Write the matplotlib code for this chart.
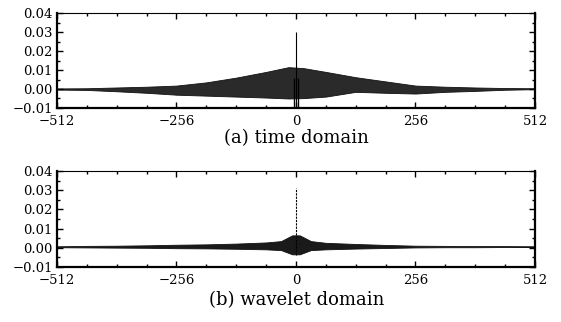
import matplotlib
matplotlib.use("Agg")
import matplotlib.pyplot as plt
from matplotlib.ticker import MultipleLocator

plt.rcParams['font.family'] = ['DejaVu Serif']

# (a) time domain: envelope of the oscillating signal
x_a = [-512, -448, -384, -320, -256, -192, -128, -64, -16, 16, 64, 128, 192, 256, 320, 384, 448, 512]
up_a = [0.0003, 0.0004, 0.0008, 0.0012, 0.0018, 0.0035, 0.0060, 0.0090, 0.0115,
        0.0110, 0.0090, 0.0062, 0.0040, 0.0018, 0.0012, 0.0008, 0.0005, 0.0004]
lo_a = [-0.0003, -0.0005, -0.0012, -0.0020, -0.0030, -0.0035, -0.0040, -0.0045, -0.0050,
        -0.0048, -0.0040, -0.0015, -0.0020, -0.0024, -0.0015, -0.0010, -0.0004, -0.0001]
spike_a = 0.030
dip_x_a = [-4, 4]
dip_top_a = 0.006

# (b) wavelet domain
x_b = [-512, -448, -384, -320, -256, -192, -128, -64, -32, -8, 8, 32, 64, 128, 192, 256, 320, 384, 448, 512]
up_b = [0.0008, 0.0010, 0.0011, 0.0013, 0.0016, 0.0018, 0.0022, 0.0028, 0.0035, 0.0065,
        0.0065, 0.0035, 0.0026, 0.0020, 0.0015, 0.0011, 0.0010, 0.0009, 0.0009, 0.0008]
lo_b = [0.0003, 0.0002, 0.0001, 0.0000, -0.0002, -0.0003, -0.0005, -0.0008, -0.0012, -0.0034,
        -0.0034, -0.0012, -0.0008, -0.0004, -0.0001, 0.0002, 0.0003, 0.0003, 0.0004, 0.0004]
spike_b = 0.031

xticks = [-512, -256, 0, 256, 512]
yticks = [-0.01, 0.00, 0.01, 0.02, 0.03, 0.04]
captions = ['(a) time domain', '(b) wavelet domain']

fig = plt.figure(figsize=(5.61, 3.22), dpi=100)
ax1 = fig.add_axes([0.1016, 0.6646, 0.852, 0.295])
ax2 = fig.add_axes([0.1016, 0.1708, 0.852, 0.298])


def style(ax):
    ax.set_xlim(-512, 512)
    ax.set_ylim(-0.01, 0.04)
    ax.set_xticks(xticks)
    ax.set_xticklabels([str(t).replace('-', '\u2212') for t in xticks])
    ax.set_yticks(yticks)
    ax.set_yticklabels([('%.2f' % t).replace('-', '\u2212') for t in yticks])
    ax.xaxis.set_minor_locator(MultipleLocator(64))
    ax.yaxis.set_minor_locator(MultipleLocator(0.005))
    ax.tick_params(which='both', direction='in', top=True, right=True,
                   labelsize=9.5, width=1.0)
    ax.tick_params(axis='x', pad=5)
    ax.tick_params(axis='y', pad=3)
    ax.tick_params(which='major', length=4)
    ax.tick_params(which='minor', length=2)
    for side in ['left', 'bottom', 'right']:
        ax.spines[side].set_linewidth(1.6)
    ax.spines['top'].set_linewidth(0.8)


ax1.fill_between(x_a, lo_a, up_a, color='#2a2a2a', linewidth=0.6, edgecolor='#111111')
ax1.vlines([0], -0.01, spike_a, color='black', linewidth=0.8)
ax1.vlines(dip_x_a, -0.01, dip_top_a, color='black', linewidth=1.0)
style(ax1)

ax2.fill_between(x_b, lo_b, up_b, color='#1a1a1a', linewidth=0.6, edgecolor='#111111')
ax2.vlines([0], -0.004, spike_b, color='black', linewidth=0.8, linestyles=(0, (2, 1)))
style(ax2)

fig.text(0.528, 0.572, captions[0], ha='center', va='center', fontsize=13)
fig.text(0.528, 0.068, captions[1], ha='center', va='center', fontsize=13)

fig.savefig('out.png', dpi=100)
